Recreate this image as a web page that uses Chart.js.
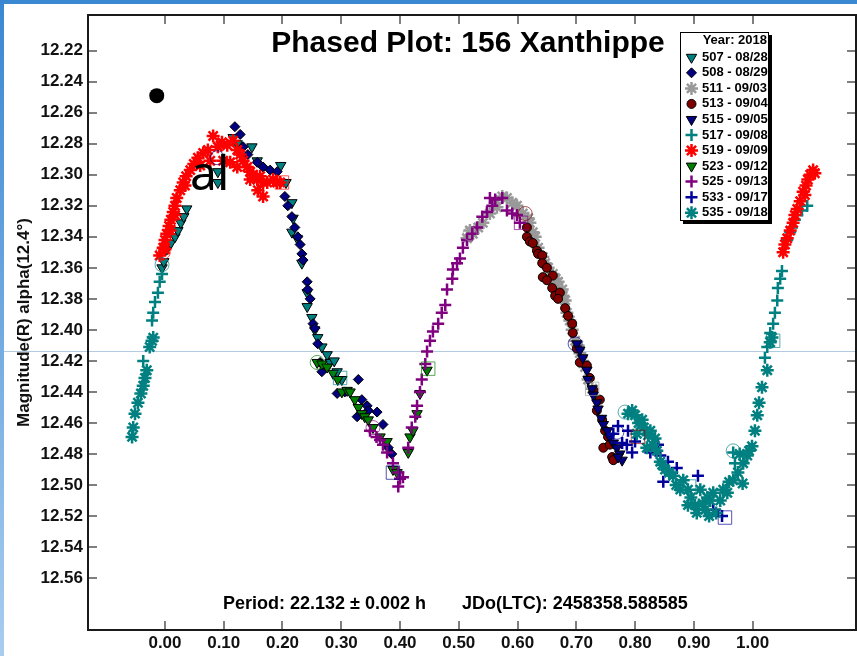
<!DOCTYPE html>
<html>
<head>
<meta charset="utf-8">
<script src="https://cdn.jsdelivr.net/npm/chart.js@4.4.1/dist/chart.umd.min.js"></script>
<style>
  html, body { margin: 0; padding: 0; background: #fff; }
  #wrap { position: relative; width: 857px; height: 656px; overflow: hidden; }
  canvas { position: absolute; left: 0; top: 0; }
  #topBar { position: absolute; left: 0; top: 0; width: 857px; height: 4px; background: #3a87d2; }
  #leftBar { position: absolute; left: 0; top: 0; width: 4px; height: 656px; background: linear-gradient(#3a87d2, #a9cdef); }
</style>
</head>
<body>
<div id="wrap">
  <canvas id="phaseChart" width="857" height="656"></canvas>
  <div id="topBar"></div>
  <div id="leftBar"></div>
</div>
<script>
// session labels (legend)
const legendTitle = "Year: 2018";
const sessions = ["507 - 08/28", "508 - 08/29", "511 - 09/03", "513 - 09/04", "515 - 09/05",
                  "517 - 09/08", "519 - 09/09", "523 - 09/12", "525 - 09/13", "533 - 09/17", "535 - 09/18"];

// tick labels
const xTicks = [0, 0.1, 0.2, 0.3, 0.4, 0.5, 0.6, 0.7, 0.8, 0.9, 1.0];
const yTicks = [12.22, 12.24, 12.26, 12.28, 12.30, 12.32, 12.34, 12.36, 12.38, 12.40,
                12.42, 12.44, 12.46, 12.48, 12.50, 12.52, 12.54, 12.56];

// [phase, magnitude] per session
const d507 = [[-0.005,12.360],[-0.002,12.356],[0.003,12.348],[0.010,12.344],[0.017,12.340],[0.022,12.336],[0.027,12.331],
  [0.032,12.327],[0.037,12.322],[0.090,12.298],[0.090,12.305],[0.116,12.276],[0.123,12.280],[0.148,12.282],[0.157,12.291],
  [0.197,12.294],[0.206,12.305],[0.216,12.318],[0.218,12.328],[0.216,12.337],[0.225,12.341],[0.233,12.357],[0.242,12.376],
  [0.242,12.385],[0.250,12.392],[0.255,12.400],[0.260,12.405],[0.267,12.411],[0.276,12.416],[0.281,12.421],[0.288,12.420],
  [0.293,12.427],[0.301,12.432]];
const d508 = [[0.119,12.269],[0.128,12.274],[0.133,12.282],[0.141,12.287],[0.157,12.292],[0.167,12.295],[0.179,12.297],
  [0.191,12.298],[0.204,12.314],[0.209,12.320],[0.216,12.327],[0.221,12.334],[0.226,12.340],[0.230,12.345],[0.233,12.351],
  [0.235,12.355],[0.242,12.369],[0.243,12.374],[0.247,12.380],[0.252,12.396],[0.255,12.399],[0.260,12.409],[0.264,12.421],
  [0.267,12.427],[0.293,12.441],[0.306,12.440],[0.329,12.432],[0.327,12.456],[0.335,12.445],[0.344,12.449],[0.346,12.452],
  [0.361,12.453],[0.371,12.461],[0.380,12.476],[0.386,12.480]];
const d511 = [[0.514,12.341],[0.519,12.336],[0.524,12.338],[0.533,12.334],[0.541,12.331],[0.553,12.325],[0.562,12.318],
  [0.565,12.321],[0.574,12.314],[0.582,12.315],[0.591,12.318],[0.599,12.320],[0.609,12.325],[0.618,12.328],[0.621,12.331],
  [0.626,12.337],[0.630,12.340],[0.635,12.347],[0.643,12.353],[0.647,12.357],[0.652,12.360],[0.660,12.364],[0.665,12.367],
  [0.669,12.369],[0.676,12.374],[0.677,12.378],[0.681,12.381],[0.684,12.389],[0.689,12.394],[0.693,12.400],[0.698,12.407],
  [0.703,12.410],[0.706,12.415],[0.711,12.420],[0.715,12.424],[0.720,12.432],[0.727,12.438]];
const d513 = [[0.616,12.334],[0.616,12.340],[0.621,12.343],[0.626,12.344],[0.633,12.349],[0.635,12.351],[0.642,12.352],
  [0.642,12.357],[0.650,12.360],[0.660,12.365],[0.643,12.366],[0.650,12.368],[0.659,12.373],[0.664,12.378],[0.672,12.376],
  [0.669,12.380],[0.681,12.386],[0.686,12.391],[0.693,12.396],[0.694,12.402],[0.701,12.412],[0.706,12.421],[0.718,12.423],
  [0.723,12.431],[0.729,12.439],[0.740,12.445],[0.735,12.452],[0.744,12.458],[0.749,12.465],[0.754,12.469],[0.746,12.476],
  [0.757,12.474],[0.761,12.482],[0.763,12.484]];
const d515 = [[0.701,12.409],[0.706,12.413],[0.711,12.418],[0.718,12.426],[0.720,12.432],[0.727,12.438],[0.729,12.442],
  [0.735,12.447],[0.737,12.451],[0.743,12.457],[0.746,12.461],[0.753,12.465],[0.757,12.469],[0.763,12.473],[0.769,12.476],
  [0.774,12.480],[0.778,12.484],[0.771,12.482]];
const d517 = [[-0.037,12.420],[-0.022,12.394],[-0.020,12.389],[-0.017,12.382],[-0.012,12.376],[-0.009,12.369],[-0.005,12.364],
  [0.967,12.479],[0.970,12.486],[1.021,12.418],[1.025,12.411],[1.030,12.402],[1.035,12.396],[1.038,12.389],[1.042,12.381],
  [1.043,12.373],[1.047,12.367],[1.050,12.362],[1.059,12.342],[1.064,12.337],[1.067,12.334],[1.072,12.329],[1.076,12.326],
  [1.084,12.323],[1.093,12.320]];
const d519 = [[-0.009,12.352],[-0.003,12.347],[0.000,12.342],[0.003,12.338],[0.007,12.333],[0.010,12.329],[0.014,12.324],
  [0.017,12.320],[0.020,12.315],[0.026,12.310],[0.031,12.305],[0.036,12.301],[0.043,12.297],[0.049,12.293],[0.056,12.289],
  [0.065,12.286],[0.073,12.284],[0.082,12.275],[0.090,12.282],[0.097,12.279],[0.106,12.281],[0.116,12.278],[0.123,12.284],
  [0.128,12.287],[0.133,12.291],[0.140,12.295],[0.145,12.298],[0.150,12.300],[0.157,12.303],[0.162,12.301],[0.167,12.305],
  [0.174,12.305],[0.184,12.303],[0.191,12.305],[0.196,12.305],[0.167,12.314],[0.158,12.310],[0.077,12.291],[0.099,12.291],
  [0.111,12.292],[0.123,12.295],[0.145,12.303],[0.060,12.294],[0.034,12.307],[0.017,12.326],[0.009,12.336],[0.000,12.348],
  [1.052,12.350],[1.055,12.345],[1.059,12.341],[1.064,12.336],[1.069,12.331],[1.072,12.326],[1.076,12.322],[1.081,12.317],
  [1.086,12.311],[1.091,12.307],[1.094,12.303],[1.098,12.300],[1.103,12.297],[1.106,12.299],[1.089,12.313]];
const d523 = [[0.259,12.421],[0.267,12.422],[0.276,12.424],[0.286,12.428],[0.294,12.432],[0.301,12.440],[0.310,12.439],
  [0.315,12.440],[0.323,12.445],[0.329,12.450],[0.335,12.454],[0.340,12.456],[0.346,12.458],[0.354,12.463],[0.366,12.469],
  [0.378,12.472],[0.388,12.490],[0.395,12.492],[0.414,12.479],[0.417,12.469],[0.422,12.465],[0.429,12.454],[0.434,12.441],
  [0.446,12.426]];
const d525 = [[0.349,12.465],[0.360,12.469],[0.366,12.471],[0.371,12.474],[0.378,12.479],[0.388,12.486],[0.397,12.492],
  [0.400,12.496],[0.397,12.501],[0.405,12.495],[0.414,12.476],[0.420,12.463],[0.426,12.456],[0.429,12.449],[0.434,12.440],
  [0.437,12.432],[0.443,12.422],[0.446,12.414],[0.451,12.407],[0.456,12.401],[0.465,12.396],[0.471,12.389],[0.477,12.384],
  [0.480,12.374],[0.489,12.367],[0.490,12.361],[0.497,12.357],[0.502,12.354],[0.507,12.347],[0.514,12.342],[0.523,12.338],
  [0.531,12.334],[0.540,12.327],[0.548,12.324],[0.553,12.315],[0.557,12.320],[0.562,12.316],[0.574,12.315],[0.582,12.323],
  [0.591,12.325],[0.599,12.326],[0.604,12.331]];
const d533 = [[0.763,12.467],[0.771,12.462],[0.778,12.473],[0.786,12.474],[0.795,12.479],[0.800,12.472],[0.788,12.465],
  [0.826,12.479],[0.839,12.474],[0.843,12.481],[0.856,12.485],[0.871,12.489],[0.848,12.498],[0.907,12.494],[0.933,12.516],
  [0.948,12.520]];
const d535 = [[-0.056,12.469],[-0.054,12.463],[-0.051,12.454],[-0.046,12.447],[-0.041,12.441],[-0.037,12.436],[-0.034,12.431],
  [-0.031,12.426],[-0.026,12.411],[-0.022,12.407],[-0.020,12.405],
  [0.788,12.454],[0.795,12.452],[0.800,12.455],[0.806,12.460],[0.812,12.458],[0.815,12.463],[0.803,12.467],[0.822,12.468],
  [0.820,12.476],[0.826,12.465],[0.830,12.474],[0.834,12.470],[0.837,12.478],[0.843,12.485],[0.846,12.487],[0.851,12.490],
  [0.858,12.492],[0.865,12.494],[0.870,12.500],[0.877,12.503],[0.882,12.497],[0.890,12.503],[0.890,12.513],[0.895,12.508],
  [0.902,12.513],[0.905,12.518],[0.911,12.503],[0.915,12.512],[0.919,12.516],[0.923,12.508],[0.926,12.520],[0.928,12.510],
  [0.933,12.505],[0.938,12.518],[0.945,12.510],[0.950,12.503],[0.957,12.505],[0.960,12.498],[0.967,12.497],[0.975,12.492],
  [0.978,12.480],[0.983,12.499],[0.984,12.486],[0.991,12.481],[0.994,12.478],[0.999,12.475],[1.004,12.465],[1.008,12.455],
  [1.011,12.447],[1.016,12.437],[1.025,12.426],[1.030,12.408],[1.033,12.405]];
const seriesData = [d507, d508, d511, d513, d515, d517, d519, d523, d525, d533, d535];

// open session marks: [phase, magnitude, session index]
const circleMarks = [[-0.005,12.358,0],[-0.003,12.350,6],[0.259,12.421,7],[0.967,12.478,5],[0.698,12.409,4],
  [0.613,12.325,3],[0.089,12.289,1],[0.519,12.338,2],[0.354,12.463,8],[0.769,12.466,9],[0.783,12.453,10]];
const squareMarks = [[0.298,12.431,0],[0.199,12.305,6],[0.388,12.492,1],[0.448,12.425,7],[0.606,12.331,8],
  [0.727,12.438,2],[0.805,12.469,3],[0.892,12.501,10],[0.953,12.521,9],[1.035,12.407,5]];
const dotPoint = [[-0.014, 12.249]];

const titleText = "Phased Plot: 156 Xanthippe";
const periodText = "Period: 22.132 \u00b1 0.002 h";
const jdoText = "JDo(LTC): 2458358.588585";
const yTitle = "Magnitude(R) alpha(12.4\u00b0)";
const strayText = "al";

const FONT = '"Liberation Sans", Arial, sans-serif';

const seriesStyle = [
  { shape: "triangle", rot: 180, r: 6, color: "#008080", solid: true },
  { shape: "rectRot", rot: 0, r: 5, color: "#000080", solid: true },
  { shape: "star", rot: 0, r: 6.5, color: "#999999", solid: false },
  { shape: "circle", rot: 0, r: 4.5, color: "#800000", solid: true },
  { shape: "triangle", rot: 180, r: 6, color: "#000080", solid: true },
  { shape: "cross", rot: 0, r: 6, color: "#008080", solid: false },
  { shape: "star", rot: 0, r: 6.5, color: "#ff0000", solid: false },
  { shape: "triangle", rot: 180, r: 6, color: "#008000", solid: true },
  { shape: "cross", rot: 0, r: 6, color: "#800080", solid: false },
  { shape: "cross", rot: 0, r: 6, color: "#00009c", solid: false },
  { shape: "star", rot: 0, r: 6.5, color: "#008080", solid: false }
];

function lineW(st) { return st.solid ? 1 : 2.5; }

function toXY(list) { return list.map(p => ({ x: p[0], y: p[1] })); }

const datasets = sessions.map((name, i) => {
  const st = seriesStyle[i];
  return {
    label: name,
    data: toXY(seriesData[i]),
    pointStyle: st.shape,
    rotation: st.rot,
    pointRadius: st.r,
    backgroundColor: st.solid ? st.color : "transparent",
    borderColor: st.solid ? "#000" : st.color,
    borderWidth: lineW(st),
    order: 100 - i
  };
});

function markSet(list, shape, r) {
  return sessions.map((name, i) => ({
    label: "mark",
    data: toXY(list.filter(m => m[2] === i)),
    pointStyle: shape,
    pointRadius: r,
    backgroundColor: "transparent",
    borderColor: seriesStyle[i].color + "aa",
    borderWidth: 1,
    order: 5
  })).filter(ds => ds.data.length);
}
datasets.push(...markSet(circleMarks, "circle", 7));
datasets.push(...markSet(squareMarks, "rect", 9.5));
datasets.push({ label: "dot", data: toXY(dotPoint), pointStyle: "circle", pointRadius: 7.5,
  backgroundColor: "#000", borderColor: "#000", borderWidth: 0, order: 1 });

function drawMarker(ctx, st, x, y) {
  ctx.fillStyle = st.solid ? st.color : "transparent";
  ctx.strokeStyle = st.solid ? "#000" : st.color;
  ctx.lineWidth = lineW(st);
  Chart.helpers.drawPoint(ctx, { pointStyle: st.shape, radius: st.r, rotation: st.rot,
    borderWidth: ctx.lineWidth }, x, y);
}

const decorPlugin = {
  id: "decor",
  beforeDatasetsDraw(chart) {
    const ctx = chart.ctx;
    ctx.save();
    ctx.strokeStyle = "#b3cbe0";
    ctx.lineWidth = 1;
    ctx.beginPath();
    ctx.moveTo(0, 351.5);
    ctx.lineTo(chart.width, 351.5);
    ctx.stroke();
    ctx.restore();
  },
  afterDatasetsDraw(chart) {
    const { ctx, chartArea: a, scales: { x, y } } = chart;
    ctx.save();
    // inward ticks on all four sides
    ctx.strokeStyle = "#555";
    ctx.lineWidth = 1.5;
    ctx.beginPath();
    xTicks.forEach(v => {
      const px = Math.round(x.getPixelForValue(v));
      ctx.moveTo(px, a.bottom); ctx.lineTo(px, a.bottom - 9);
      ctx.moveTo(px, a.top); ctx.lineTo(px, a.top + 9);
    });
    yTicks.forEach(v => {
      const py = Math.round(y.getPixelForValue(v));
      ctx.moveTo(a.left, py); ctx.lineTo(a.left + 9, py);
      ctx.moveTo(a.right, py); ctx.lineTo(a.right - 9, py);
    });
    ctx.stroke();
    // frame
    ctx.strokeStyle = "#1a1a1a";
    ctx.lineWidth = 2;
    ctx.strokeRect(a.left, a.top, a.right - a.left, a.bottom - a.top);

    // title and footer
    ctx.fillStyle = "#000";
    ctx.textBaseline = "alphabetic";
    ctx.font = "bold 30px " + FONT;
    ctx.textAlign = "center";
    ctx.fillText(titleText, 468, 52);
    ctx.font = "bold 18px " + FONT;
    ctx.textAlign = "left";
    ctx.fillText(periodText, 223, 609);
    ctx.fillText(jdoText, 462, 609);

    // legend
    ctx.fillStyle = "#000";
    ctx.fillRect(683, 35, 89, 189);
    ctx.fillStyle = "#fff";
    ctx.fillRect(680, 32, 88, 188);
    ctx.strokeStyle = "#000";
    ctx.lineWidth = 1;
    ctx.strokeRect(680.5, 32.5, 88, 188);
    ctx.font = "bold 13px " + FONT;
    ctx.textBaseline = "middle";
    ctx.fillStyle = "#000";
    ctx.textAlign = "right";
    ctx.fillText(legendTitle, 767, 40);
    sessions.forEach((name, i) => {
      const yy = 57.3 + i * 15.54;
      drawMarker(ctx, seriesStyle[i], 691.5, yy);
      ctx.fillStyle = "#000";
      ctx.textAlign = "left";
      ctx.fillText(name, 702, yy);
    });

    // stray text over the data
    ctx.textBaseline = "alphabetic";
    ctx.font = '48px "Noto Sans"';
    ctx.fillStyle = "#000";
    ctx.textAlign = "left";
    ctx.fillText(strayText, 190, 190);
    ctx.restore();
  }
};

const tickFont = { family: FONT, size: 17, weight: "bold" };

new Chart(document.getElementById("phaseChart"), {
  type: "scatter",
  data: { datasets },
  options: {
    responsive: false,
    animation: false,
    layout: { autoPadding: false, padding: { top: 15, right: 1, left: 0, bottom: 0 } },
    plugins: { legend: { display: false }, tooltip: { enabled: false }, title: { display: false } },
    scales: {
      x: {
        type: "linear",
        min: -0.131,
        max: 1.176,
        afterBuildTicks: s => { s.ticks = xTicks.map(v => ({ value: v })); },
        afterFit: s => { s.height = 26; s.paddingLeft = 0; s.paddingRight = 0; },
        ticks: { callback: v => Number(v).toFixed(2), font: tickFont, color: "#111", padding: 3,
                 autoSkip: false, maxRotation: 0 },
        grid: { display: false, drawTicks: false, tickLength: 0 },
        border: { display: false }
      },
      y: {
        type: "linear",
        reverse: true,
        min: 12.197,
        max: 12.5935,
        afterBuildTicks: s => { s.ticks = yTicks.map(v => ({ value: v })); },
        afterFit: s => { s.width = 88; s.paddingTop = 0; s.paddingBottom = 0; },
        ticks: { callback: v => Number(v).toFixed(2), font: tickFont, color: "#111", padding: 5, autoSkip: false },
        grid: { display: false, drawTicks: false, tickLength: 0 },
        border: { display: false },
        title: { display: true, text: yTitle, color: "#111", font: { family: FONT, size: 17, weight: "bold" },
                 padding: { top: 14, bottom: 0 } }
      }
    }
  },
  plugins: [decorPlugin]
});
</script>
</body>
</html>
